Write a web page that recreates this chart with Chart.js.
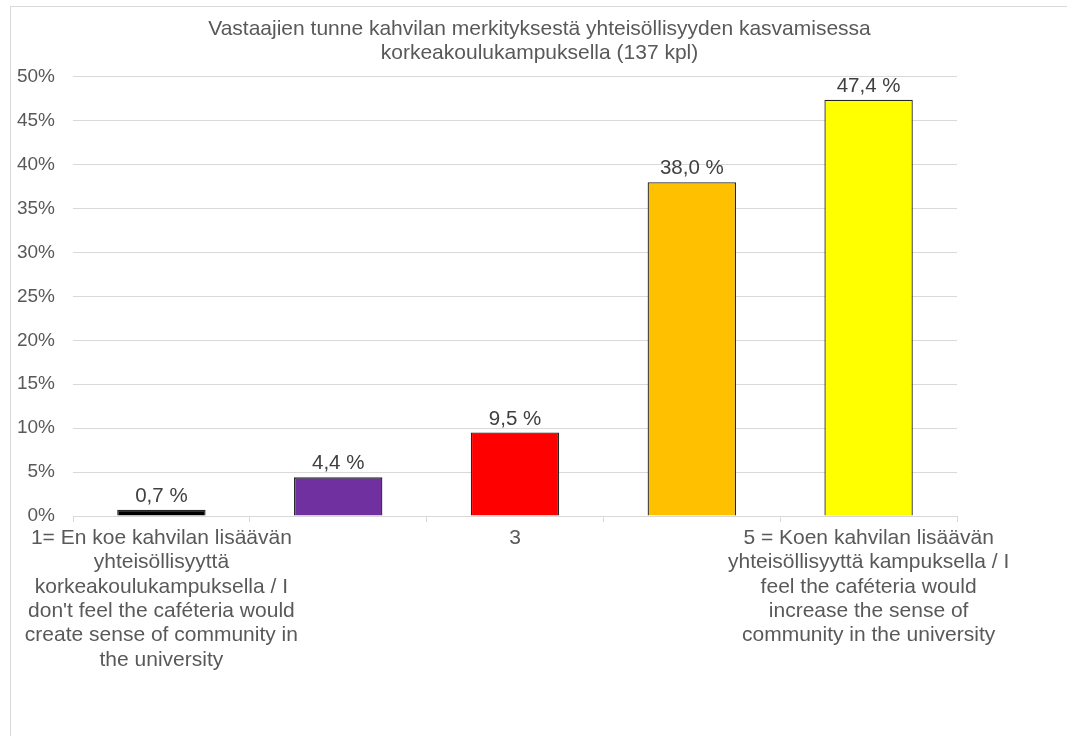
<!DOCTYPE html>
<html>
<head>
<meta charset="utf-8">
<script src="https://cdn.jsdelivr.net/npm/chart.js@4"></script>
<style>
  body { margin: 0; background: #fff; overflow: hidden; }
  #box { position: absolute; left: 10px; top: 6px; width: 1070px; height: 740px;
         border-left: 1px solid #d9d9d9; border-top: 1px solid #d9d9d9; }
  canvas { display: block; }
</style>
</head>
<body>
<div id="box"><canvas id="Grafica" width="1057" height="730"></canvas></div>
<script>
var otsikko = ['Vastaajien tunne kahvilan merkityksestä yhteisöllisyyden kasvamisessa',
               'korkeakoulukampuksella (137 kpl)'];
var kategoriat = [
    ['1= En koe kahvilan lisäävän', 'yhteisöllisyyttä', 'korkeakoulukampuksella / I',
     "don't feel the caféteria would", 'create sense of community in', 'the university'],
    ['2'],
    ['3'],
    ['4'],
    ['5 = Koen kahvilan lisäävän', 'yhteisöllisyyttä kampuksella / I', 'feel the caféteria would',
     'increase the sense of', 'community in the university']
];
var arvot = [0.7, 4.4, 9.5, 38.0, 47.4];
var varit = ['#000000', '#7030A0', '#FF0000', '#FFC000', '#FFFF00'];
var yTicks = [0, 5, 10, 15, 20, 25, 30, 35, 40, 45, 50];

var FONT = 'Liberation Sans, Arial, sans-serif';

// arvot pylväiden päälle
var arvoLabels = {
    id: 'arvoLabels',
    afterDatasetsDraw: function (chart) {
        var ctx = chart.ctx;
        var meta = chart.getDatasetMeta(0);
        ctx.save();
        ctx.font = '20.5px ' + FONT;
        ctx.fillStyle = '#404040';
        ctx.textAlign = 'center';
        ctx.textBaseline = 'alphabetic';
        meta.data.forEach(function (bar, i) {
            var txt = arvot[i].toFixed(1).replace('.', ',') + ' %';
            ctx.fillText(txt, bar.x, bar.y - 8);
        });
        ctx.restore();
    }
};

var ctx = document.getElementById('Grafica');
var myBarChart = new Chart(ctx, {
    type: 'bar',
    data: {
        labels: kategoriat,
        datasets: [{
            data: arvot,
            backgroundColor: varit,
            borderColor: '#262626',
            borderWidth: 1.3,
            barPercentage: 0.5,
            categoryPercentage: 1
        }]
    },
    options: {
        responsive: false,
        animation: false,
        layout: { padding: 0 },
        plugins: {
            legend: { display: false },
            tooltip: { enabled: false },
            title: {
                display: true,
                text: otsikko,
                color: '#595959',
                font: { family: FONT, size: 21, weight: 'normal', lineHeight: 1.14 },
                padding: { top: 10, bottom: 12 }
            }
        },
        scales: {
            x: {
                grid: { display: true, offset: true, drawOnChartArea: false, drawTicks: true,
                        tickLength: 6, color: '#d9d9d9' },
                border: { color: '#d9d9d9' },
                afterFit: function (axis) { axis.height = 221; },
                ticks: {
                    color: '#595959',
                    font: { family: FONT, size: 21, lineHeight: 1.16 },
                    maxRotation: 0, minRotation: 0, autoSkip: false, padding: 4,
                    callback: function (v, i) { return i % 2 === 0 ? kategoriat[i] : ''; }
                }
            },
            y: {
                min: 0, max: 50,
                afterBuildTicks: function (axis) {
                    axis.ticks = yTicks.map(function (v) { return { value: v }; });
                },
                afterFit: function (axis) { axis.width = 62; },
                grid: { color: '#d9d9d9', drawTicks: false },
                border: { display: false },
                ticks: {
                    color: '#595959',
                    font: { family: FONT, size: 19 },
                    padding: 18,
                    callback: function (v) { return v + '%'; }
                }
            },
            oikea: {
                type: 'linear',
                position: 'right',
                grid: { display: false },
                border: { display: false },
                ticks: { display: false },
                afterFit: function (axis) { axis.width = 111; }
            }
        }
    },
    plugins: [arvoLabels]
});
</script>
</body>
</html>
